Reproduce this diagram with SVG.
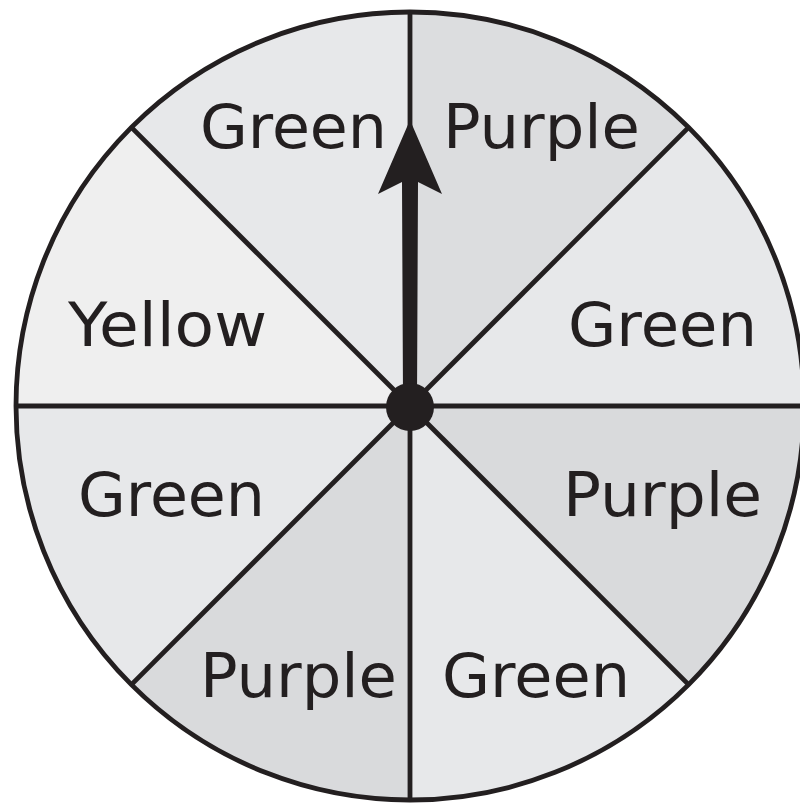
<svg xmlns="http://www.w3.org/2000/svg" width="800" height="805" viewBox="0 0 800 805">
<style>
.lbl{font-family:"DejaVu Sans","Verdana",sans-serif;font-size:61px;fill:#231f20}
.ln{stroke:#231f20;stroke-width:4.8;fill:none}
.g{fill:#e7e8ea}.p1{fill:#dcdddf}.p2{fill:#d9dadc}.y{fill:#efefef}
</style>
<rect width="800" height="805" fill="#ffffff"/>
<g id="sector-green-top"><path class="g" d="M410 406 L131.4 127.4 A394 394 0 0 1 410 12 Z"/><text class="lbl" x="200" y="148" textLength="187" lengthAdjust="spacingAndGlyphs">Green</text></g>
<g id="sector-purple-top"><path class="p1" d="M410 406 L410 12 A394 394 0 0 1 688.6 127.4 Z"/><text class="lbl" x="443" y="148" textLength="197" lengthAdjust="spacingAndGlyphs">Purple</text></g>
<g id="sector-green-right"><path class="g" d="M410 406 L688.6 127.4 A394 394 0 0 1 804 406 Z"/><text class="lbl" x="568" y="346" textLength="189" lengthAdjust="spacingAndGlyphs">Green</text></g>
<g id="sector-purple-right"><path class="p2" d="M410 406 L804 406 A394 394 0 0 1 688.6 684.6 Z"/><text class="lbl" x="563" y="516" textLength="199" lengthAdjust="spacingAndGlyphs">Purple</text></g>
<g id="sector-green-bottom"><path class="g" d="M410 406 L688.6 684.6 A394 394 0 0 1 410 800 Z"/><text class="lbl" x="442" y="697" textLength="188" lengthAdjust="spacingAndGlyphs">Green</text></g>
<g id="sector-purple-bottom"><path class="p2" d="M410 406 L410 800 A394 394 0 0 1 131.4 684.6 Z"/><text class="lbl" x="200" y="697" textLength="197" lengthAdjust="spacingAndGlyphs">Purple</text></g>
<g id="sector-green-left"><path class="g" d="M410 406 L131.4 684.6 A394 394 0 0 1 16 406 Z"/><text class="lbl" x="78" y="516" textLength="187" lengthAdjust="spacingAndGlyphs">Green</text></g>
<g id="sector-yellow-left"><path class="y" d="M410 406 L16 406 A394 394 0 0 1 131.4 127.4 Z"/><text class="lbl" x="68" y="346" textLength="199" lengthAdjust="spacingAndGlyphs">Yellow</text></g>
<g id="connectors">
<line class="ln" x1="410" y1="12" x2="410" y2="800"/>
<line class="ln" x1="16" y1="406" x2="804" y2="406"/>
<line class="ln" x1="131.4" y1="127.4" x2="688.6" y2="684.6"/>
<line class="ln" x1="688.6" y1="127.4" x2="131.4" y2="684.6"/>
<circle class="ln" cx="410" cy="406" r="394"/>
</g>
<g id="pointer">
<polygon fill="#231f20" points="410,120 442,194 418,182 417,400 403,400 402,182 378,194"/>
<circle fill="#231f20" cx="410" cy="407" r="24"/>
</g>
</svg>
